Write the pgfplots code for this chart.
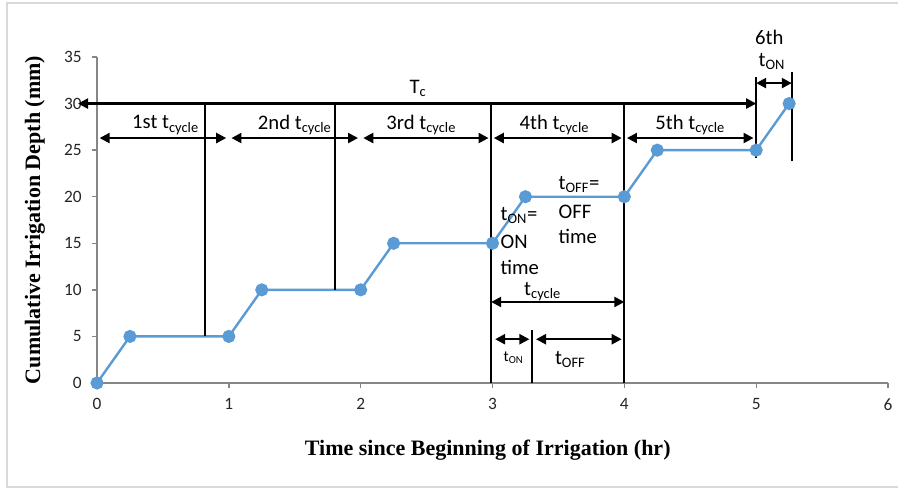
\documentclass[border=0pt]{standalone}
\usepackage{fontspec}
\setmainfont{Carlito}
\newfontfamily\serifb{Liberation Serif}
\usepackage{pgfplots}
\pgfplotsset{compat=1.18}
\usetikzlibrary{arrows.meta}
\definecolor{lineblue}{HTML}{5B9BD5}
\definecolor{axgray}{HTML}{868686}
\definecolor{framegray}{HTML}{D9D9D9}
\tikzset{
  arr/.style={line width=1.7pt, {Triangle[length=7.5pt,width=7.5pt]}-{Triangle[length=7.5pt,width=7.5pt]}},
  vl/.style={line width=1.7pt},
  lab/.style={font=\fontsize{15.5}{18}\selectfont, text=black, inner sep=0pt},
}
\begin{document}
\begin{tikzpicture}
\useasboundingbox (0,0) rectangle (673.5pt,366.75pt);
\draw[framegray, line width=1.2pt] (674.5pt,364.5pt) -- (5.25pt,364.5pt) -- (5.25pt,1.5pt) -- (674.5pt,1.5pt);
\begin{axis}[
  at={(72.75pt,79.5pt)}, anchor=south west,
  scale only axis, width=593.25pt, height=244.5pt,
  xmin=0, xmax=6, ymin=0, ymax=35,
  xtick={0,1,2,3,4,5,6}, ytick={0,5,10,15,20,25,30,35},
  axis x line=bottom, axis y line=left,
  axis line style={-, axgray, line width=1.4pt},
  tick align=outside, major tick length=4pt,
  tick style={axgray, line width=1pt},
  ticklabel style={font=\fontsize{13}{15}\selectfont, text=black!85},
  xticklabel style={yshift=-4pt},
  yticklabel style={xshift=-4pt},
  /pgf/number format/assume math mode=true,
  xlabel={Time since Beginning of Irrigation (hr)},
  ylabel={Cumulative Irrigation Depth (mm)},
  xlabel style={font=\serifb\bfseries\fontsize{16.5}{19}\selectfont, at={(axis description cs:0.494,-0.2055)}, anchor=center},
  ylabel style={font=\serifb\bfseries\fontsize{16.5}{19}\selectfont, at={(axis description cs:-0.0784,0.5)}, anchor=center},
  clip=false,
]
\addplot[lineblue, line width=1.8pt, mark=*, mark size=4pt, mark options={fill=lineblue, draw=lineblue}]
 coordinates {(0,0) (0.25,5) (1,5) (1.25,10) (2,10) (2.25,15) (3,15) (3.25,20) (4,20) (4.25,25) (5,25) (5.25,30)};
% T_c
\draw[arr] (axis cs:-0.144,30) -- (axis cs:5.0,30);
\node[lab] at (axis cs:2.435,31.6) {T\textsubscript{c}};
% vertical lines
\draw[vl] (axis cs:0.82,5) -- (axis cs:0.82,30);
\draw[vl] (axis cs:1.805,10) -- (axis cs:1.805,30);
\draw[vl] (axis cs:2.99,0) -- (axis cs:2.99,30);
\draw[vl] (axis cs:4.0,0) -- (axis cs:4.0,30);
\draw[vl] (axis cs:5.0,24.2) -- (axis cs:5.0,32.8);
\draw[vl] (axis cs:5.27,23.8) -- (axis cs:5.27,33.4);
% cycle arrows
\draw[arr] (axis cs:0.02,26.3) -- (axis cs:0.98,26.3);
\draw[arr] (axis cs:1.02,26.3) -- (axis cs:1.98,26.3);
\draw[arr] (axis cs:2.02,26.3) -- (axis cs:2.97,26.3);
\draw[arr] (axis cs:3.01,26.3) -- (axis cs:3.98,26.3);
\draw[arr] (axis cs:4.02,26.3) -- (axis cs:4.98,26.3);
\node[lab] at (axis cs:0.52,27.7) {1st t\textsubscript{cycle}};
\node[lab] at (axis cs:1.50,27.7) {2nd t\textsubscript{cycle}};
\node[lab] at (axis cs:2.46,27.7) {3rd t\textsubscript{cycle}};
\node[lab] at (axis cs:3.47,27.7) {4th t\textsubscript{cycle}};
\node[lab] at (axis cs:4.50,27.7) {5th t\textsubscript{cycle}};
% 6th t_ON
\draw[arr] (axis cs:5.0,32.2) -- (axis cs:5.27,32.2);
\node[lab] at (axis cs:5.10,37.1) {6th};
\node[lab] at (axis cs:5.12,34.5) {t\textsubscript{ON}};
% t_cycle detail
\draw[arr] (axis cs:2.99,8.7) -- (axis cs:4.0,8.7);
\node[lab] at (axis cs:3.38,9.8) {t\textsubscript{cycle}};
\draw[vl] (axis cs:3.3,0) -- (axis cs:3.3,5.7);
\draw[arr] (axis cs:3.02,4.7) -- (axis cs:3.28,4.7);
\draw[arr] (axis cs:3.33,4.7) -- (axis cs:3.98,4.7);
\node[lab, font=\fontsize{11.5}{13}\selectfont] at (axis cs:3.16,2.7) {t\textsubscript{ON}};
\node[lab] at (axis cs:3.59,2.5) {t\textsubscript{OFF}};
% t_ON = ON time
\node[lab, anchor=west] at (axis cs:3.06,18.0) {t\textsubscript{ON}=};
\node[lab, anchor=west] at (axis cs:3.06,15.1) {ON};
\node[lab, anchor=west] at (axis cs:3.06,12.4) {time};
% t_OFF = OFF time
\node[lab, anchor=west] at (axis cs:3.5,21.3) {t\textsubscript{OFF}=};
\node[lab, anchor=west] at (axis cs:3.5,18.4) {OFF};
\node[lab, anchor=west] at (axis cs:3.5,15.7) {time};
\end{axis}
\end{tikzpicture}
\end{document}
